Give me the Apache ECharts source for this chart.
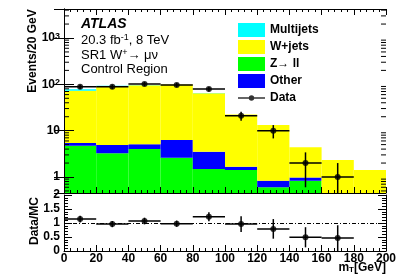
<!DOCTYPE html>
<html><head><meta charset="utf-8">
<script src="https://cdn.jsdelivr.net/npm/echarts@6/dist/echarts.min.js"></script>
<style>html,body{margin:0;padding:0;background:#fff}#c{width:407px;height:276px}</style>
</head><body><div id="c"></div><script>
// ---- data ----
const binEdges = [0, 20, 40, 60, 80, 100, 120, 140, 160, 180, 200];
const zll       = [4.7, 3.25, 4.0, 2.6, 1.49, 1.42, 0.6, 0.83, 0, 0];
const other     = [0.7, 1.65, 1.1, 3.7, 2.0, 0.25, 0.23, 0.15, 0, 0];
const wjets     = [67.6, 86.1, 90.9, 92.7, 60.5, 20.7, 12.4, 3.4, 2.33, 1.41];
const multijets = [5.0, 1.7, 1.0, 0.5, 0.8, 0.1, 0, 0, 0, 0];
const dataX     = [10, 30, 50, 70, 90, 110, 130, 150, 170];
const dataY     = [89, 89, 102, 97, 79, 21, 10, 2, 1];
const dataErrLo = [9.4, 9.4, 10.1, 9.8, 8.9, 4.6, 3.2, 1.4, 1.0];
const dataErrHi = [9.4, 9.4, 10.1, 9.8, 8.9, 4.6, 3.2, 1.4, 1.0];
const ratioY    = [1.14, 0.96, 1.07, 0.975, 1.22, 0.96, 0.79, 0.49, 0.46];
const ratioErr  = [0.12, 0.11, 0.12, 0.11, 0.16, 0.28, 0.35, 0.36, 0.46];
const logMinorTicks = [0.5,0.6,0.7,0.8,0.9,2,3,4,5,6,7,8,9,20,30,40,50,60,70,80,90,200,300,400,500,600,700,800,900,2000,3000,4000];

const Y_MIN = 0.4515, Y_MAX = 4227;
const FONT = 'Liberation Sans';
const layers = [
  {name: 'Z\u2192 ll', vals: zll, color: '#00ff00'},
  {name: 'Other', vals: other, color: '#0000ff'},
  {name: 'W+jets', vals: wjets, color: '#ffff00'},
  {name: 'Multijets', vals: multijets, color: '#00ffff'}
];
let cum = binEdges.slice(1).map(() => 0);
const stackSeries = layers.map(L => {
  const data = [];
  L.vals.forEach((v, i) => {
    const lo = cum[i], hi = cum[i] + v;
    if (v > 0) data.push([binEdges[i], binEdges[i + 1], Math.max(lo, Y_MIN), Math.max(hi, Y_MIN)]);
    cum[i] = hi;
  });
  return {
    type: 'custom', name: L.name, xAxisIndex: 0, yAxisIndex: 0, clip: true,
    itemStyle: {color: L.color},
    encode: {x: [0, 1], y: [2, 3]},
    data: data,
    renderItem: function (params, api) {
      const a = api.coord([api.value(0), api.value(3)]);
      const b = api.coord([api.value(1), api.value(2)]);
      return {type: 'rect', shape: {x: a[0], y: a[1], width: b[0] - a[0], height: b[1] - a[1]},
              style: {fill: L.color}};
    }
  };
});

const sup = {fontSize: 9, verticalAlign: 'top', lineHeight: 9, fontFamily: FONT, fontWeight: 'bold', color: '#000'};
function logLabel(v) {
  const e = Math.round(Math.log10(v));
  if (Math.abs(Math.log10(v) - e) > 1e-6) return '';
  if (e === 0) return '1';
  if (e === 1) return '10';
  return '10{sup|' + e + '}';
}
const tickX = {show: true, inside: true, length: 6, lineStyle: {color: '#000'}};
const minorX = {show: true, splitNumber: 5, length: 3, lineStyle: {color: '#000'}};
const lbl = {fontFamily: FONT, fontWeight: 'bold', fontSize: 12, color: '#000'};
const dataIcon = 'path://M0,0L0,0ZM27,14L27,14ZM0,6.3L27,6.3L27,7.7L0,7.7ZM16.2,7A2.7,2.7 0 1 1 10.8,7A2.7,2.7 0 1 1 16.2,7Z';

const option = {
  animation: false,
  backgroundColor: '#fff',
  grid: [
    {left: 64, right: 21, top: 9, height: 184, outerBoundsMode: 'none'},
    {left: 64, right: 21, top: 195, height: 56, outerBoundsMode: 'none'}
  ],
  xAxis: [
    {type: 'value', gridIndex: 0, min: 0, max: 200, interval: 20, position: 'bottom', z: 5,
     axisLine: {onZero: false, lineStyle: {color: '#000'}}, axisTick: tickX, minorTick: minorX,
     axisLabel: {show: false}, splitLine: {show: false}},
    {type: 'value', gridIndex: 0, min: 0, max: 200, interval: 20, position: 'top', z: 5,
     axisLine: {onZero: false, lineStyle: {color: '#000'}}, axisTick: tickX, minorTick: minorX,
     axisLabel: {show: false}, splitLine: {show: false}},
    {type: 'value', gridIndex: 1, min: 0, max: 200, interval: 20, position: 'bottom', z: 5,
     axisLine: {onZero: false, lineStyle: {color: '#000'}}, axisTick: tickX, minorTick: minorX,
     axisLabel: Object.assign({margin: 2}, lbl), splitLine: {show: false}},
    {type: 'value', gridIndex: 1, min: 0, max: 200, interval: 20, position: 'top', z: 5,
     axisLine: {show: false}, axisTick: {show: false}, minorTick: {show: false},
     axisLabel: {show: false}, splitLine: {show: false}}
  ],
  yAxis: [
    {type: 'log', gridIndex: 0, min: Y_MIN, max: Y_MAX, logBase: 10, position: 'left', z: 5,
     axisLine: {lineStyle: {color: '#000'}},
     axisTick: {show: true, inside: true, length: 10, lineStyle: {color: '#000'}},
     axisLabel: Object.assign({margin: 4, formatter: logLabel, rich: {sup: sup}}, lbl),
     splitLine: {show: false}},
    {type: 'log', gridIndex: 0, min: Y_MIN, max: Y_MAX, logBase: 10, position: 'right', z: 5,
     axisLine: {lineStyle: {color: '#000'}},
     axisTick: {show: true, inside: true, length: 10, lineStyle: {color: '#000'}},
     axisLabel: {show: false}, splitLine: {show: false}},
    {type: 'value', gridIndex: 1, min: 0, max: 2, interval: 0.5, position: 'left', z: 5,
     axisLine: {onZero: false, lineStyle: {color: '#000'}},
     axisTick: {show: true, inside: true, length: 8, lineStyle: {color: '#000'}},
     minorTick: {show: true, splitNumber: 5, length: 4, lineStyle: {color: '#000'}},
     axisLabel: Object.assign({margin: 4}, lbl), splitLine: {show: false}},
    {type: 'value', gridIndex: 1, min: 0, max: 2, interval: 0.5, position: 'right', z: 5,
     axisLine: {onZero: false, lineStyle: {color: '#000'}},
     axisTick: {show: true, inside: true, length: 8, lineStyle: {color: '#000'}},
     minorTick: {show: true, splitNumber: 5, length: 4, lineStyle: {color: '#000'}},
     axisLabel: {show: false}, splitLine: {show: false}}
  ],
  legend: {
    orient: 'vertical', left: 233, top: 18, itemWidth: 27, itemHeight: 14, itemGap: 3,
    textStyle: {fontFamily: FONT, fontWeight: 'bold', fontSize: 12, color: '#000'},
    data: [
      {name: 'Multijets', icon: 'rect'}, {name: 'W+jets', icon: 'rect'},
      {name: 'Z\u2192 ll', icon: 'rect'}, {name: 'Other', icon: 'rect'},
      {name: 'Data', icon: dataIcon}
    ]
  },
  graphic: [
    {type: 'text', x: 81, y: 24, z: 10, style: {text: 'ATLAS', fill: '#000', font: 'italic bold 14px ' + FONT, verticalAlign: 'middle'}},
    {type: 'text', x: 81, y: 40, z: 10, style: {text: '20.3 fb{s|-1}, 8 TeV', fill: '#000', font: '13px ' + FONT, verticalAlign: 'middle',
      rich: {s: {fontSize: 9, verticalAlign: 'top', lineHeight: 9, fontFamily: FONT}}}},
    {type: 'text', x: 81, y: 55, z: 10, style: {text: 'SR1 W{s|+}\u2192 \u03bc\u03bd', fill: '#000', font: '13px ' + FONT, verticalAlign: 'middle',
      rich: {s: {fontSize: 9, verticalAlign: 'top', lineHeight: 9, fontFamily: FONT}}}},
    {type: 'text', x: 81, y: 69, z: 10, style: {text: 'Control Region', fill: '#000', font: '13px ' + FONT, verticalAlign: 'middle'}},
    {type: 'text', x: 33, y: 51, rotation: Math.PI / 2, z: 10, style: {text: 'Events/20 GeV', fill: '#000', font: 'bold 12px ' + FONT, align: 'center', verticalAlign: 'middle'}},
    {type: 'text', x: 35, y: 221, rotation: Math.PI / 2, z: 10, style: {text: 'Data/MC', fill: '#000', font: 'bold 12px ' + FONT, align: 'center', verticalAlign: 'middle'}},
    {type: 'text', x: 386, y: 268, z: 10, style: {text: 'm{b|T}[GeV]', fill: '#000', font: 'bold 12px ' + FONT, align: 'right', verticalAlign: 'middle',
      rich: {b: {fontSize: 8, verticalAlign: 'bottom', lineHeight: 8, fontFamily: FONT, fontWeight: 'bold'}}}}
  ],
  series: stackSeries.concat([
    {
      type: 'custom', name: 'logticks', xAxisIndex: 0, yAxisIndex: 0, clip: false, z: 6, silent: true,
      encode: {x: 0, y: 1},
      data: logMinorTicks.map(v => [0, v]),
      renderItem: function (params, api) {
        const a = api.coord([0, api.value(1)]);
        const b = api.coord([200, api.value(1)]);
        return {type: 'group', children: [
          {type: 'line', shape: {x1: a[0], y1: a[1], x2: a[0] + 5, y2: a[1]}, style: {stroke: '#000', lineWidth: 1}},
          {type: 'line', shape: {x1: b[0], y1: b[1], x2: b[0] - 5, y2: b[1]}, style: {stroke: '#000', lineWidth: 1}}
        ]};
      }
    },
    {
      type: 'custom', name: 'dataErr', xAxisIndex: 0, yAxisIndex: 0, clip: true, z: 7, silent: true,
      encode: {x: 0, y: 1},
      data: dataX.map((x, i) => [x, dataY[i], Math.max(dataY[i] - dataErrLo[i], Y_MIN), dataY[i] + dataErrHi[i], binEdges[i], binEdges[i + 1]]),
      renderItem: function (params, api) {
        const c = api.coord([api.value(0), api.value(1)]);
        const l = api.coord([api.value(4), api.value(1)]);
        const r = api.coord([api.value(5), api.value(1)]);
        const lo = api.coord([api.value(0), api.value(2)]);
        const hi = api.coord([api.value(0), api.value(3)]);
        return {type: 'group', children: [
          {type: 'line', shape: {x1: l[0], y1: c[1], x2: r[0], y2: c[1]}, style: {stroke: '#000', lineWidth: 1.5}},
          {type: 'line', shape: {x1: c[0], y1: lo[1], x2: c[0], y2: hi[1]}, style: {stroke: '#000', lineWidth: 1.5}}
        ]};
      }
    },
    {
      type: 'scatter', name: 'Data', xAxisIndex: 0, yAxisIndex: 0, z: 8,
      data: dataX.map((x, i) => [x, dataY[i]]),
      symbol: 'circle', symbolSize: 6, itemStyle: {color: '#000'}
    },
    {
      type: 'custom', name: 'ratioErr', xAxisIndex: 2, yAxisIndex: 2, clip: true, z: 7, silent: true,
      encode: {x: 0, y: 1},
      data: dataX.map((x, i) => [x, ratioY[i], ratioY[i] - ratioErr[i], ratioY[i] + ratioErr[i], binEdges[i], binEdges[i + 1]]),
      renderItem: function (params, api) {
        const c = api.coord([api.value(0), api.value(1)]);
        const l = api.coord([api.value(4), api.value(1)]);
        const r = api.coord([api.value(5), api.value(1)]);
        const lo = api.coord([api.value(0), api.value(2)]);
        const hi = api.coord([api.value(0), api.value(3)]);
        return {type: 'group', children: [
          {type: 'line', shape: {x1: l[0], y1: c[1], x2: r[0], y2: c[1]}, style: {stroke: '#000', lineWidth: 1.5}},
          {type: 'line', shape: {x1: c[0], y1: lo[1], x2: c[0], y2: hi[1]}, style: {stroke: '#000', lineWidth: 1.5}}
        ]};
      }
    },
    {
      type: 'scatter', name: 'ratio', xAxisIndex: 2, yAxisIndex: 2, z: 8,
      data: dataX.map((x, i) => [x, ratioY[i]]),
      symbol: 'circle', symbolSize: 6, itemStyle: {color: '#000'},
      markLine: {silent: true, symbol: 'none', label: {show: false},
        lineStyle: {color: '#000', width: 1, type: [4, 2, 1, 2]},
        data: [{yAxis: 1}]}
    }
  ])
};
const chart = echarts.init(document.getElementById('c'), null, {renderer: 'canvas'});
chart.setOption(option);
</script></body></html>
